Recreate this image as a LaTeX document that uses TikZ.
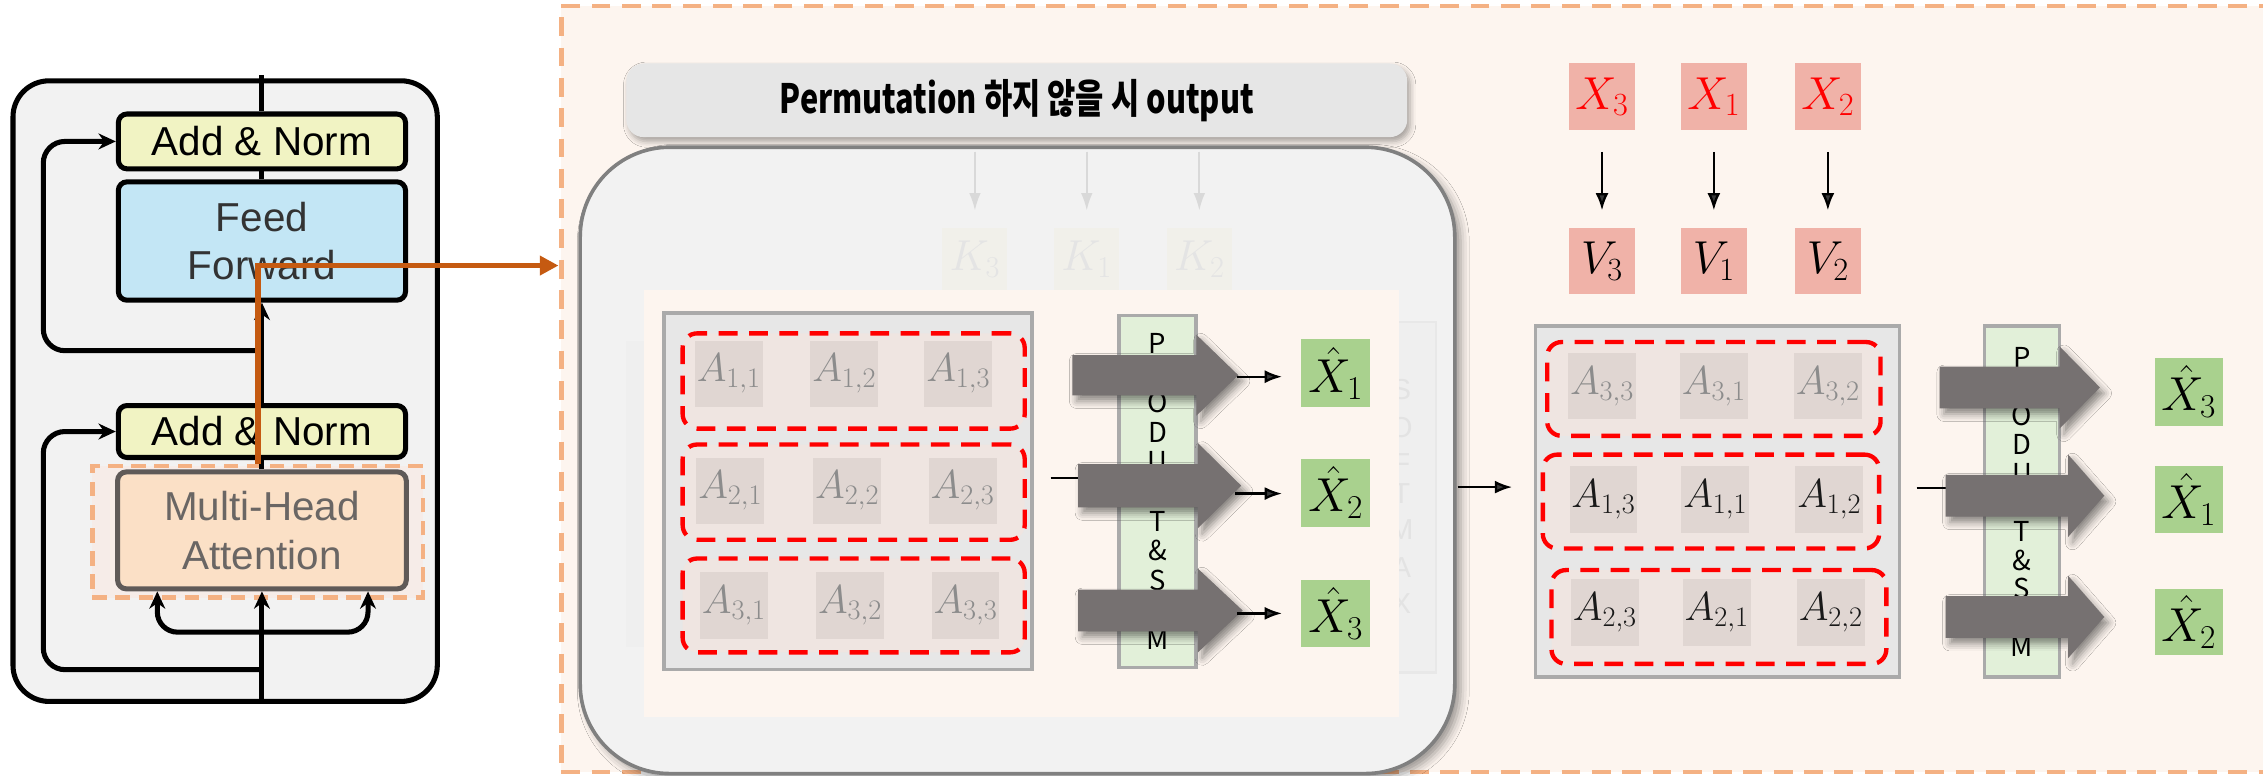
\RequirePackage{fix-cm}
\documentclass[tikz,border=0pt]{standalone}
\usepackage{fontspec}
\usepackage{graphicx}
\setmainfont{Liberation Sans}
\newfontfamily\krfont{Noto Sans CJK KR}
\usetikzlibrary{arrows.meta,shadows.blur,calc}
\definecolor{regbg}{HTML}{FDF5EF}
\definecolor{dor}{HTML}{F4B183}
\definecolor{lpbg}{HTML}{F2F2F2}
\definecolor{anfill}{HTML}{F1F3C3}
\definecolor{fffill}{HTML}{C3E6F5}
\definecolor{mhafill}{HTML}{FBE0C6}
\definecolor{mhabd}{HTML}{5F5A58}
\definecolor{mhatxt}{HTML}{6A6664}
\definecolor{mhaov}{HTML}{F6ECE8}
\definecolor{orgarrow}{HTML}{C55A11}
\definecolor{titlebg}{HTML}{E6E6E6}
\definecolor{bigbg}{HTML}{F2F2F2}
\definecolor{bigbd}{HTML}{808080}
\definecolor{matbg}{HTML}{E7E7E7}
\definecolor{matbd}{HTML}{AAAAAA}
\definecolor{rowbg}{HTML}{EFE5E1}
\definecolor{cellbg}{HTML}{E0D6D2}
\definecolor{psbg}{HTML}{E2F0D9}
\definecolor{garrowc}{HTML}{767171}
\definecolor{xhat}{HTML}{A9D18E}
\definecolor{xbox}{HTML}{F0B2A8}
\definecolor{celltxt}{HTML}{8C8C8C}
\definecolor{kfill}{HTML}{F1F0EA}
\definecolor{ktxt}{HTML}{E4E4E4}
\definecolor{kline}{HTML}{D9D9D9}
\definecolor{smxbg}{HTML}{EFEFEF}
\definecolor{smxbd}{HTML}{E8E8E8}
\definecolor{smxtxt}{HTML}{E3E3E3}
\newcommand{\garrow}[6]{\path[garrowst] (#1,{#4-#5}) -- (#2,{#4-#5}) -- (#2,{#4-#6}) -- (#3,#4) -- (#2,{#4+#6}) -- (#2,{#4+#5}) -- (#1,{#4+#5}) -- cycle;}
\begin{document}
\begin{tikzpicture}[x=1pt,y=-1pt,
  lpline/.style={line width=3.5pt, draw=black},
  lptip/.style={-{Stealth[length=12pt,width=11pt]}},
  lpbox/.style={draw=black, line width=3.5pt, rounded corners=6pt, minimum width=199pt, inner sep=0pt, align=center, font=\fontsize{28}{33.6}\selectfont},
  regionbox/.style={draw=dor, line width=3pt, dash pattern=on 13pt off 8pt, fill=regbg, inner sep=0pt},
  rowbox/.style={draw=red, line width=3pt, dash pattern=on 13pt off 8pt, rounded corners=10pt, fill=rowbg, inner sep=0pt},
  cell/.style={fill=cellbg, minimum width=47pt, minimum height=46pt, inner sep=0pt, font=\fontsize{28}{33}\selectfont},
  psbar/.style={fill=psbg, draw=matbd, line width=2.5pt, minimum width=53pt, minimum height=244pt, inner sep=0pt},
  psl/.style={font=\krfont\fontsize{19}{22}\selectfont, inner sep=0pt},
  garrowst/.style={fill=garrowc, blur shadow={shadow xshift=3pt, shadow yshift=-4pt, shadow blur radius=5pt, shadow opacity=45}},
  hatbox/.style={fill=xhat, minimum width=48pt, minimum height=47pt, inner sep=0pt, font=\fontsize{33}{38}\selectfont},
  xbx/.style={fill=xbox, minimum width=46pt, minimum height=46pt, inner sep=0pt, font=\fontsize{32}{38}\selectfont},
  thinarrow/.style={line width=1.6pt, -{Latex[length=12pt,width=9pt]}},
  matbox/.style={fill=matbg, draw=matbd, line width=2.5pt, inner sep=0pt}
]
\clip (0,0) rectangle (1568,537);
% ---------- right region ----------
\node[regionbox, minimum width=1211pt, minimum height=531pt] (region) at (994.5,269.5) {};
% ---------- left panel ----------
\node[draw=black, line width=3.5pt, rounded corners=25pt, fill=lpbg, minimum width=294pt, minimum height=430pt, inner sep=0pt] (outer) at (156,271) {};
\coordinate (ltop) at (181.5,52);
\coordinate (r1) at (181.5,243);
\coordinate (r1c) at (30,243);
\coordinate (r2) at (181.5,464);
\coordinate (r2c) at (30,464);
\coordinate (lbot) at (181.5,486);
\coordinate (b2) at (181.5,438);
\node[draw=dor, line width=3pt, dash pattern=on 10pt off 6pt, fill=mhaov, minimum width=229pt, minimum height=91pt, inner sep=0pt] (mhad) at (178.5,368.5) {};
\node[lpbox, fill=anfill, minimum height=38pt] (an1) at (181.5,98) {Add \& Norm};
\node[lpbox, fill=fffill, minimum height=82pt, text=black!80] (ff) at (181.5,167) {Feed\\Forward};
\node[lpbox, fill=anfill, minimum height=36pt] (an2) at (181.5,299) {Add \& Norm};
\node[lpbox, draw=mhabd, fill=mhafill, minimum height=81pt, text=mhatxt, minimum width=200pt] (mha) at (181.5,367.5) {Multi-Head\\Attention};
\draw[lpline] (ltop) -- (an1.north);
\draw[lpline] (an1.south) -- (ff.north);
\draw[lpline, lptip] (an2.north) -- (ff.south);
\draw[lpline, lptip, rounded corners=15pt] (r1) -- (r1c) |- (an1.west);
\draw[lpline] (mha.north) -- (an2.south);
\draw[lpline, lptip, rounded corners=15pt] (r2) -- (r2c) |- (an2.west);
\draw[lpline, lptip] (lbot) -- (mha.south);
\draw[lpline, lptip, rounded corners=14pt] (b2) -| ([xshift=-72.5pt]mha.south);
\draw[lpline, lptip, rounded corners=14pt] (b2) -| ([xshift=73.5pt]mha.south);
\coordinate (oend) at (387,184);
\draw[line width=4pt, orgarrow, -{Triangle[length=13pt,width=13pt]}] (mhad.north) |- (oend);
% ---------- title ----------
\node[fill=titlebg, rounded corners=12pt, minimum width=541pt, minimum height=51pt, inner sep=0pt,
  blur shadow={shadow xshift=2pt, shadow yshift=-3pt, shadow blur radius=4pt, shadow opacity=35},
  font=\krfont\bfseries\fontsize{28}{32}\selectfont] (title) at (704.5,69.5) {\scalebox{0.76}[1]{Permutation 하지 않을 시 output}};
% ---------- big box ----------
\node[draw=bigbd, line width=2.5pt, fill=bigbg, rounded corners=62pt, minimum width=606pt, minimum height=434pt, inner sep=0pt,
  blur shadow={shadow xshift=4pt, shadow yshift=-4pt, shadow blur radius=6pt, shadow opacity=40}] (bigbox) at (705,319) {};
\foreach \n/\xx/\t in {k3/675.5/3, k1/753/1, k2/831/2} {
  \node[fill=kfill, minimum width=45pt, minimum height=43pt, inner sep=0pt, text=ktxt, font=\fontsize{30}{36}\selectfont] (\n) at (\xx,179.5) {$K_{\t}$};
  \coordinate (s\n) at (\xx,105);
  \draw[line width=1.2pt, kline, -{Latex[length=12pt,width=8pt]}, shorten >=12pt] (s\n) -- (\n.north);
}
\node[draw=smxbd, line width=1.5pt, fill=smxbg, minimum width=50pt, minimum height=243pt, inner sep=0pt] (smx) at (970,344.5) {};
\foreach \l/\yy [count=\i] in {S/270, O/296, F/321, T/342, M/367, A/393, X/418}
  \node[font=\fontsize{20}{24}\selectfont, text=smxtxt, inner sep=0pt] (smx\i) at (971,\yy) {\l};
\node[fill=smxbg, minimum width=12pt, minimum height=212pt, inner sep=0pt] (lstrip) at (440,342) {};
\node[fill=regbg, minimum width=523pt, minimum height=296pt, inner sep=0pt] (inner) at (707.5,349) {};
% ---------- matrix 1 ----------
\node[matbox, minimum width=255pt, minimum height=247pt] (m1) at (587.5,340.5) {};
\node[rowbox, minimum width=237pt, minimum height=66pt] (m1r1) at (591.5,264) {};
\node[rowbox, minimum width=237pt, minimum height=66pt] (m1r2) at (591.5,341) {};
\node[rowbox, minimum width=237pt, minimum height=65pt] (m1r3) at (591.5,419.5) {};
\foreach \i/\j/\xx/\yy in {1/1/505/259, 1/2/585/259, 1/3/664/259, 2/1/506/340, 2/2/587/340, 2/3/667/340, 3/1/508.5/419.5, 3/2/589/419.5, 3/3/669/419.5}
  \node[cell, text=celltxt] (a\i\j) at (\xx,\yy) {$A_{\i,\j}$};
\node[psbar] (ps1) at (802,340.5) {};
\foreach \l/\yy [count=\i] in {P/238, R/258.5, O/279, D/299.5, U/320, C/340.5, T/361, \&/381.5, S/402, U/422.5, M/443}
  \node[psl] (ps1l\i) at (802,\yy) {\l};
\coordinate (sl1) at (728,331);
\coordinate (sl1e) at (750,331);
\draw[line width=1.5pt] (sl1) -- (sl1e);
\garrow{743}{829}{858}{260}{14}{28}
\garrow{747}{830}{860}{336.5}{15}{29.5}
\garrow{747}{830}{861}{423}{14.5}{29}
\node[hatbox] (xh1) at (925.5,258.5) {$\hat{X}_1$};
\node[hatbox] (xh2) at (925.5,341.5) {$\hat{X}_2$};
\node[hatbox, minimum height=46pt] (xh3) at (925.5,425) {$\hat{X}_3$};
\coordinate (t11) at (857,261);
\coordinate (t12) at (856,342);
\coordinate (t13) at (857,425);
\draw[thinarrow, shorten >=13pt] (t11) -- (xh1.west |- t11);
\draw[thinarrow, shorten >=13pt] (t12) -- (xh2.west |- t12);
\draw[thinarrow, shorten >=13pt] (t13) -- (xh3.west |- t13);
% ---------- right part ----------
\foreach \n/\xx in {3/1110, 1/1187.5, 2/1266.5} {
  \node[xbx, text=red] (x\n) at (\xx,67) {$X_{\n}$};
  \node[xbx] (v\n) at (\xx,181) {$V_{\n}$};
  \draw[thinarrow, shorten <=15pt, shorten >=12pt] (x\n) -- (v\n);
}
\node[matbox, minimum width=252pt, minimum height=243pt] (m2) at (1190,347.5) {};
\coordinate (jn) at (1010,337.5);
\draw[thinarrow, shorten >=15pt] (jn) -- (m2.west |- jn);
\node[rowbox, minimum width=231pt, minimum height=65pt] (m2r1) at (1187.5,269.5) {};
\node[rowbox, minimum width=233pt, minimum height=65pt] (m2r2) at (1185.5,347.5) {};
\node[rowbox, minimum width=232pt, minimum height=65pt] (m2r3) at (1191,427.5) {};
\foreach \nm/\xx/\yy/\lab in {b11/1110/267.5/{3,3}, b12/1187.5/267.5/{3,1}, b13/1266.5/267.5/{3,2}}
  \node[cell, text=celltxt] (\nm) at (\xx,\yy) {$A_{\lab}$};
\foreach \nm/\xx/\yy/\lab in {b21/1111/346/{1,3}, b22/1188.5/346/{1,1}, b23/1267.5/346/{1,2}, b31/1112/424.5/{2,3}, b32/1189.5/424.5/{2,1}, b33/1268.5/424.5/{2,2}}
  \node[cell, text=black!90] (\nm) at (\xx,\yy) {$A_{\lab}$};
\node[psbar, minimum width=52pt, minimum height=243pt] (ps2) at (1401,347.5) {};
\foreach \l/\yy [count=\i] in {P/248, R/268, O/288, D/308, U/328, C/348, T/368, \&/388, S/408, U/428, M/448}
  \node[psl] (ps2l\i) at (1401,\yy) {\l};
\coordinate (sl2) at (1328,338);
\coordinate (sl2e) at (1350,338);
\draw[line width=1.5pt] (sl2) -- (sl2e);
\garrow{1344}{1427}{1455}{268.5}{14.5}{28.5}
\garrow{1348}{1433}{1458}{343.5}{14.5}{28.5}
\garrow{1348}{1433}{1458}{427.5}{14.5}{28.5}
\node[hatbox, minimum width=47pt] (xr3) at (1516.5,271.5) {$\hat{X}_3$};
\node[hatbox, minimum width=47pt, minimum height=46pt] (xr1) at (1516.5,346) {$\hat{X}_1$};
\node[hatbox, minimum width=47pt, minimum height=46pt] (xr2) at (1516.5,431) {$\hat{X}_2$};
\end{tikzpicture}
\end{document}
